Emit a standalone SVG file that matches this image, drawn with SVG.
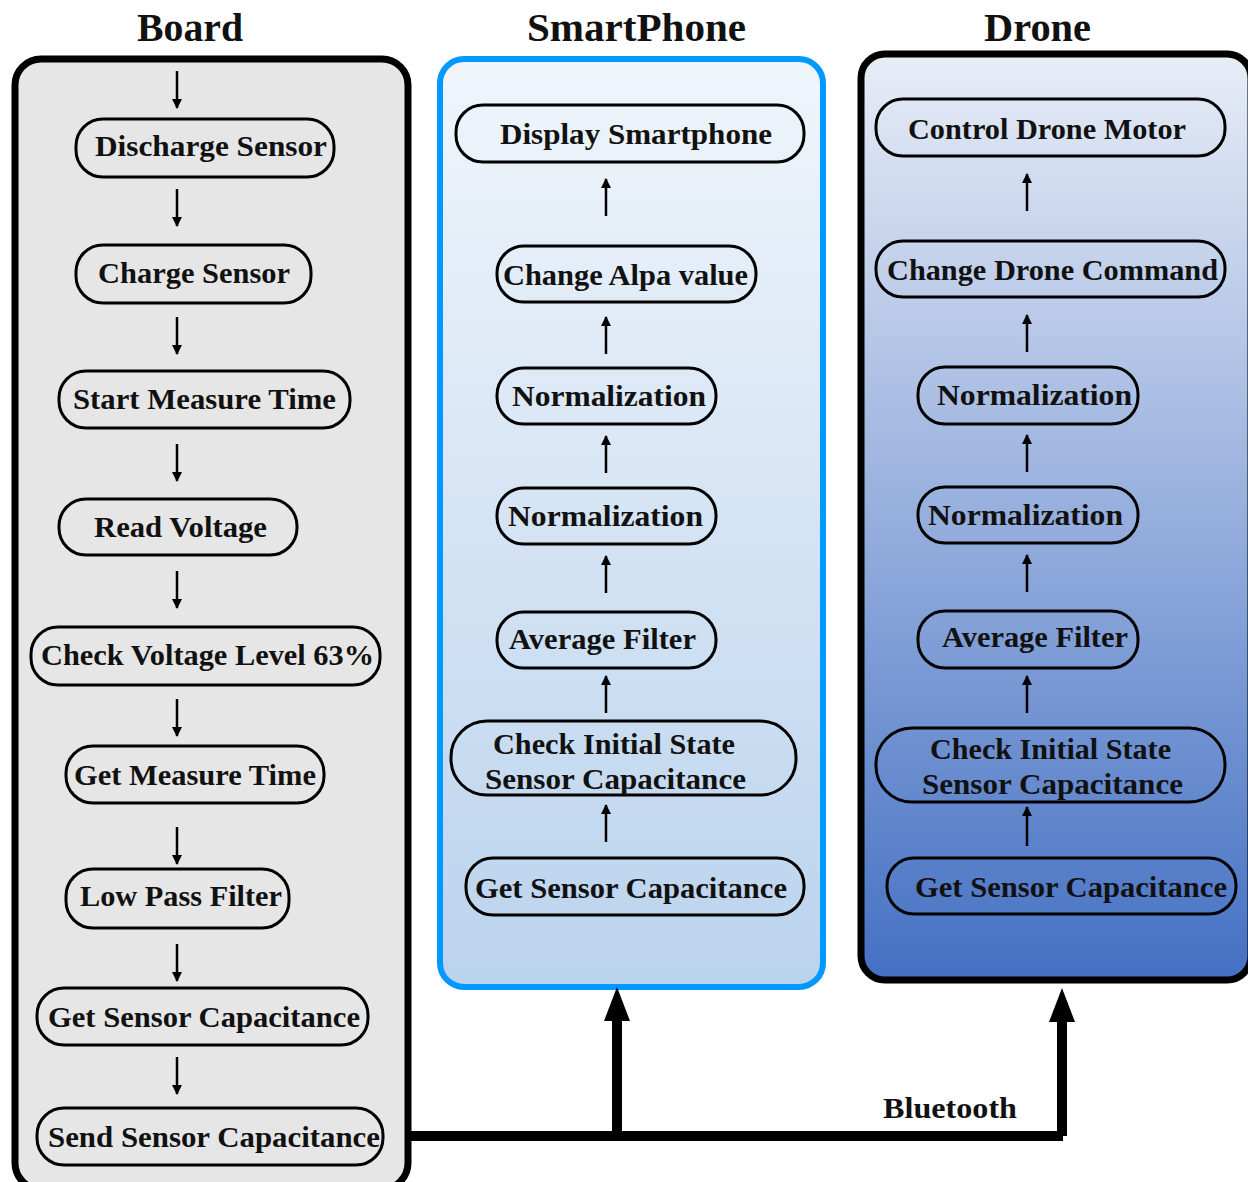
<svg xmlns="http://www.w3.org/2000/svg" width="1248" height="1182" viewBox="0 0 1248 1182">
<defs>
<linearGradient id="gPhone" x1="0" y1="0" x2="0" y2="1">
<stop offset="0" stop-color="#f0f5fb"/>
<stop offset="1" stop-color="#bad3ed"/>
</linearGradient>
<linearGradient id="gDrone" x1="0" y1="0" x2="0" y2="1">
<stop offset="0" stop-color="#e8edf7"/>
<stop offset="1" stop-color="#4470c3"/>
</linearGradient>
<marker id="ah" viewBox="0 0 10 10" refX="9" refY="5" markerWidth="4" markerHeight="4" orient="auto" markerUnits="strokeWidth">
<path d="M0,0 L10,5 L0,10 Z" fill="#000"/>
</marker>
<style>
text{font-family:"Liberation Serif","DejaVu Serif",serif;font-weight:bold;fill:#111;}
.t{font-size:30px;}
.h{font-size:40px;}
.n{fill:none;stroke:#000;stroke-width:3;}
.a{stroke:#000;stroke-width:2.5;fill:none;marker-end:url(#ah);}
.bt{stroke:#000;stroke-width:10;fill:none;}
</style>
</defs>

<text class="h" x="137" y="41" textLength="106" lengthAdjust="spacingAndGlyphs">Board</text>
<text class="h" x="527" y="41" textLength="219" lengthAdjust="spacingAndGlyphs">SmartPhone</text>
<text class="h" x="984" y="41" textLength="107" lengthAdjust="spacingAndGlyphs">Drone</text>

<rect x="15" y="59" width="393" height="1130" rx="26" fill="#e6e6e6" stroke="#000" stroke-width="7"/>
<rect x="440" y="59" width="383" height="928" rx="24" fill="url(#gPhone)" stroke="#0099ff" stroke-width="6"/>
<rect x="861" y="54" width="390" height="926" rx="24" fill="url(#gDrone)" stroke="#000" stroke-width="7"/>

<g id="board-nodes">
<g id="b1"><rect class="n" x="76" y="119" width="258" height="58" rx="27"/><text class="t" x="95" y="156" textLength="232" lengthAdjust="spacingAndGlyphs">Discharge Sensor</text></g>
<g id="b2"><rect class="n" x="76" y="245" width="235" height="58" rx="27"/><text class="t" x="98" y="283" textLength="192" lengthAdjust="spacingAndGlyphs">Charge Sensor</text></g>
<g id="b3"><rect class="n" x="59" y="371" width="291" height="57" rx="27"/><text class="t" x="73" y="409" textLength="263" lengthAdjust="spacingAndGlyphs">Start Measure Time</text></g>
<g id="b4"><rect class="n" x="59" y="499" width="238" height="56" rx="27"/><text class="t" x="94" y="537" textLength="173" lengthAdjust="spacingAndGlyphs">Read Voltage</text></g>
<g id="b5"><rect class="n" x="31" y="627" width="349" height="58" rx="27"/><text class="t" x="41" y="665" textLength="333" lengthAdjust="spacingAndGlyphs">Check Voltage Level 63%</text></g>
<g id="b6"><rect class="n" x="66" y="746" width="258" height="57" rx="27"/><text class="t" x="74" y="785" textLength="242" lengthAdjust="spacingAndGlyphs">Get Measure Time</text></g>
<g id="b7"><rect class="n" x="66" y="869" width="223" height="59" rx="27"/><text class="t" x="80" y="906" textLength="202" lengthAdjust="spacingAndGlyphs">Low Pass Filter</text></g>
<g id="b8"><rect class="n" x="37" y="988" width="331" height="57" rx="27"/><text class="t" x="48" y="1027" textLength="312" lengthAdjust="spacingAndGlyphs">Get Sensor Capacitance</text></g>
<g id="b9"><rect class="n" x="37" y="1108" width="346" height="57" rx="27"/><text class="t" x="48" y="1147" textLength="332" lengthAdjust="spacingAndGlyphs">Send Sensor Capacitance</text></g>
</g>

<g id="phone-nodes">
<g id="p1"><rect class="n" x="456" y="105" width="348" height="57" rx="27"/><text class="t" x="500" y="144" textLength="272" lengthAdjust="spacingAndGlyphs">Display Smartphone</text></g>
<g id="p2"><rect class="n" x="497" y="246" width="259" height="56" rx="27"/><text class="t" x="503" y="285" textLength="245" lengthAdjust="spacingAndGlyphs">Change Alpa value</text></g>
<g id="p3"><rect class="n" x="497" y="368" width="219" height="56" rx="27"/><text class="t" x="512" y="406" textLength="194" lengthAdjust="spacingAndGlyphs">Normalization</text></g>
<g id="p4"><rect class="n" x="497" y="488" width="219" height="56" rx="27"/><text class="t" x="508" y="526" textLength="195" lengthAdjust="spacingAndGlyphs">Normalization</text></g>
<g id="p5"><rect class="n" x="497" y="612" width="219" height="56" rx="27"/><text class="t" x="509" y="649" textLength="187" lengthAdjust="spacingAndGlyphs">Average Filter</text></g>
<g id="p6"><rect class="n" x="451" y="721" width="345" height="74" rx="36"/><text class="t" x="493" y="754" textLength="242" lengthAdjust="spacingAndGlyphs">Check Initial State</text><text class="t" x="485" y="789" textLength="261" lengthAdjust="spacingAndGlyphs">Sensor Capacitance</text></g>
<g id="p7"><rect class="n" x="466" y="858" width="338" height="57" rx="27"/><text class="t" x="475" y="898" textLength="312" lengthAdjust="spacingAndGlyphs">Get Sensor Capacitance</text></g>
</g>

<g id="drone-nodes">
<g id="d1"><rect class="n" x="876" y="99" width="349" height="57" rx="27"/><text class="t" x="908" y="139" textLength="278" lengthAdjust="spacingAndGlyphs">Control Drone Motor</text></g>
<g id="d2"><rect class="n" x="876" y="241" width="349" height="56" rx="27"/><text class="t" x="887" y="280" textLength="331" lengthAdjust="spacingAndGlyphs">Change Drone Command</text></g>
<g id="d3"><rect class="n" x="918" y="367" width="220" height="57" rx="27"/><text class="t" x="937" y="405" textLength="195" lengthAdjust="spacingAndGlyphs">Normalization</text></g>
<g id="d4"><rect class="n" x="918" y="487" width="220" height="56" rx="27"/><text class="t" x="928" y="525" textLength="195" lengthAdjust="spacingAndGlyphs">Normalization</text></g>
<g id="d5"><rect class="n" x="918" y="611" width="220" height="57" rx="27"/><text class="t" x="942" y="647" textLength="186" lengthAdjust="spacingAndGlyphs">Average Filter</text></g>
<g id="d6"><rect class="n" x="876" y="728" width="349" height="74" rx="36"/><text class="t" x="930" y="759" textLength="241" lengthAdjust="spacingAndGlyphs">Check Initial State</text><text class="t" x="922" y="794" textLength="261" lengthAdjust="spacingAndGlyphs">Sensor Capacitance</text></g>
<g id="d7"><rect class="n" x="887" y="858" width="349" height="56" rx="27"/><text class="t" x="915" y="897" textLength="312" lengthAdjust="spacingAndGlyphs">Get Sensor Capacitance</text></g>
</g>

<g id="connectors">
<line class="a" x1="177" y1="71" x2="177" y2="108"/>
<line class="a" x1="177" y1="189" x2="177" y2="226"/>
<line class="a" x1="177" y1="317" x2="177" y2="354"/>
<line class="a" x1="177" y1="444" x2="177" y2="481"/>
<line class="a" x1="177" y1="571" x2="177" y2="608"/>
<line class="a" x1="177" y1="699" x2="177" y2="736"/>
<line class="a" x1="177" y1="827" x2="177" y2="864"/>
<line class="a" x1="177" y1="944" x2="177" y2="981"/>
<line class="a" x1="177" y1="1057" x2="177" y2="1094"/>

<line class="a" x1="606" y1="216" x2="606" y2="179"/>
<line class="a" x1="606" y1="354" x2="606" y2="317"/>
<line class="a" x1="606" y1="473" x2="606" y2="436"/>
<line class="a" x1="606" y1="593" x2="606" y2="556"/>
<line class="a" x1="606" y1="713" x2="606" y2="676"/>
<line class="a" x1="606" y1="842" x2="606" y2="805"/>

<line class="a" x1="1027" y1="211" x2="1027" y2="174"/>
<line class="a" x1="1027" y1="352" x2="1027" y2="315"/>
<line class="a" x1="1027" y1="472" x2="1027" y2="435"/>
<line class="a" x1="1027" y1="592" x2="1027" y2="555"/>
<line class="a" x1="1027" y1="713" x2="1027" y2="676"/>
<line class="a" x1="1027" y1="846" x2="1027" y2="807"/>

<path class="bt" d="M409,1136 H1063 M617,1136 V1018 M1062,1136 V1020"/>
<path d="M617,987 L604,1021 L630,1021 Z" fill="#000"/>
<path d="M1062,988 L1049,1022 L1075,1022 Z" fill="#000"/>
<text class="t" x="883" y="1118" textLength="134" lengthAdjust="spacingAndGlyphs">Bluetooth</text>
</g>
</svg>
